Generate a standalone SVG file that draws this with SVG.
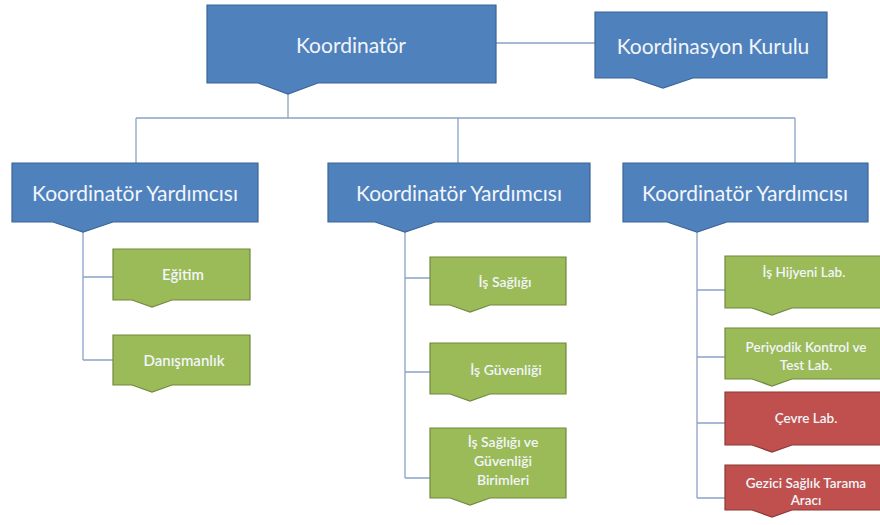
<svg xmlns="http://www.w3.org/2000/svg" width="880" height="525" viewBox="0 0 880 525">
<style>
.blue{fill:#4f81bd;stroke:#3b6597;stroke-width:1.2}
.green{fill:#9bbb59;stroke:#71893f;stroke-width:1.2}
.red{fill:#c0504d;stroke:#8c3836;stroke-width:1.2}
.conn{fill:none;stroke:#8aa2c6;stroke-width:1.3}
text{font-family:Lato,"Open Sans","Liberation Sans",sans-serif;fill:#f2f5fa;text-anchor:middle;dominant-baseline:central}
.big{font-size:21px}
.mid{font-size:21px}
.lg{font-size:15px;font-weight:600}
.sm{font-size:14px;font-weight:600}
.xs{font-size:13.5px;font-weight:600}
</style>
<rect width="880" height="525" fill="#ffffff"/>
<g id="connectors">
<path class="conn" d="M496,43 H595"/>
<path class="conn" d="M288,94 V118 M136,118 H795 M136,118 V163 M458,118 V163 M795,118 V163"/>
<path class="conn" d="M83,232 V360 M83,277 H113 M83,360 H113"/>
<path class="conn" d="M405,232 V478 M405,278 H430 M405,372 H430 M405,478 H430"/>
<path class="conn" d="M697,232 V498 M697,290 H725 M697,357 H725 M697,423 H725 M697,498 H725"/>
</g>
<g id="koordinator">
<path class="blue" d="M207,5 H496 V83 H318 L288,94 L258,83 H207 Z"/>
<text class="big" x="351" y="44">Koordinatör</text>
</g>
<g id="kurul">
<path class="blue" d="M595,12 H827 V78 H693 L663,88 L633,78 H595 Z"/>
<text class="big" x="713" y="45">Koordinasyon Kurulu</text>
</g>
<g id="yard1">
<path class="blue" d="M12,163 H258 V222 H113 L83,232 L53,222 H12 Z"/>
<text class="mid" x="135" y="192">Koordinatör Yardımcısı</text>
</g>
<g id="yard2">
<path class="blue" d="M328,163 H590 V222 H435 L405,232 L375,222 H328 Z"/>
<text class="mid" x="459" y="192">Koordinatör Yardımcısı</text>
</g>
<g id="yard3">
<path class="blue" d="M623,163 H868 V222 H727 L697,232 L667,222 H623 Z"/>
<text class="mid" x="745" y="192">Koordinatör Yardımcısı</text>
</g>
<g id="egitim">
<path class="green" d="M113,249 H250 V300 H172 L152,307 L132,300 H113 Z"/>
<text class="lg" x="183" y="274">Eğitim</text>
</g>
<g id="danismanlik">
<path class="green" d="M113,335 H250 V385 H172 L152,392 L132,385 H113 Z"/>
<text class="lg" x="184" y="360">Danışmanlık</text>
</g>
<g id="is-sagligi">
<path class="green" d="M430,257 H566 V305 H490 L470,312 L450,305 H430 Z"/>
<text class="sm" x="505" y="281">İş Sağlığı</text>
</g>
<g id="is-guvenligi">
<path class="green" d="M430,343 H566 V394 H490 L470,401 L450,394 H430 Z"/>
<text class="sm" x="506" y="369">İş Güvenliği</text>
</g>
<g id="isg-birimleri">
<path class="green" d="M430,428 H566 V498 H490 L470,505 L450,498 H430 Z"/>
<text class="sm" x="503" y="441">İş Sağlığı ve</text>
<text class="sm" x="503" y="460">Güvenliği</text>
<text class="sm" x="503" y="479">Birimleri</text>
</g>
<g id="hijyen">
<path class="green" d="M725,256 H886 V308 H792 L772,315 L752,308 H725 Z"/>
<text class="xs" x="804" y="272">İş Hijyeni Lab.</text>
</g>
<g id="periyodik">
<path class="green" d="M725,328 H886 V379 H792 L772,386 L752,379 H725 Z"/>
<text class="xs" x="806" y="347">Periyodik Kontrol ve</text>
<text class="xs" x="806" y="365">Test Lab.</text>
</g>
<g id="cevre">
<path class="red" d="M725,392 H886 V445 H792 L772,452 L752,445 H725 Z"/>
<text class="xs" x="806" y="418">Çevre Lab.</text>
</g>
<g id="gezici">
<path class="red" d="M725,465 H886 V510 H792 L772,517 L752,510 H725 Z"/>
<text class="xs" x="806" y="483">Gezici Sağlık Tarama</text>
<text class="xs" x="806" y="500">Aracı</text>
</g>
</svg>
